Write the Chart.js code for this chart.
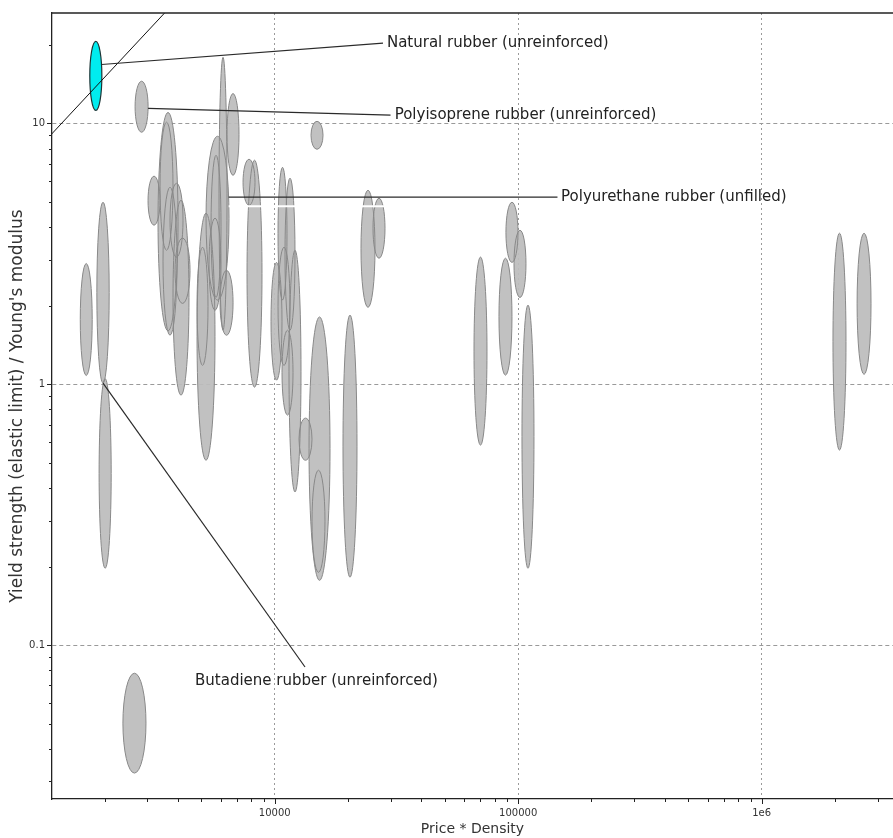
<!DOCTYPE html>
<html>
<head>
<meta charset="utf-8">
<script src="https://cdn.jsdelivr.net/npm/chart.js@4.4.1/dist/chart.umd.min.js"></script>
<style>
  html, body { margin: 0; padding: 0; background: #ffffff; }
  #wrap { width: 893px; height: 838px; position: relative; }
</style>
</head>
<body>
<div id="wrap"><canvas id="chart"></canvas></div>
<script>
// Material property envelopes: price*density range and
// (yield strength / Young's modulus) range for each material.
const priceDensityLow = [
  1740, 2670, 1590, 1860, 1900, 2380, 3317, 3381, 3477, 3018,
  3715, 3896, 3822, 4797, 4797, 5373, 5476, 5223, 5906, 6370,
  5963, 7412, 7697, 9656, 10318, 11023, 10318, 11447, 10715, 12584,
  13833, 14230, 14096, 19076, 22614, 25335, 65847, 83386, 89070, 96110,
  103660, 1963000, 2466000
];
const priceDensityHigh = [
  1950, 3020, 1780, 2090, 2130, 2960, 4008, 3822, 3970, 3381,
  4202, 4490, 4446, 5685, 5322, 6019, 6019, 6492, 6370, 7135,
  6744, 8301, 8867, 10715, 11233, 12117, 11555, 12823, 11891, 14230,
  16872, 16088, 15793, 21777, 25817, 28379, 74456, 94300, 99816, 107650,
  116110, 2220000, 2813000
];
const ratioLow = [
  11.2, 9.24, 1.08, 1.01, 0.197, 0.0323, 1.6, 3.26, 1.54, 4.07,
  3.07, 2.04, 0.908, 0.511, 1.18, 1.92, 2.15, 2.1, 1.61, 6.32,
  1.54, 4.85, 0.974, 1.036, 2.1, 1.61, 1.18, 0.386, 0.761, 0.511,
  0.177, 0.19, 7.95, 0.182, 1.97, 3.04, 0.584, 1.083, 2.93, 2.15,
  0.197, 0.559, 1.09
];
const ratioHigh = [
  20.6, 14.5, 2.9, 4.98, 1.05, 0.078, 11.0, 10.1, 5.69, 6.27,
  5.89, 3.63, 5.07, 4.52, 3.35, 4.33, 7.54, 8.92, 17.9, 13.0,
  2.73, 7.28, 7.22, 2.93, 6.78, 6.16, 3.35, 3.26, 1.61, 0.741,
  1.81, 0.468, 10.18, 1.84, 5.54, 5.16, 3.07, 3.04, 4.98, 3.89,
  2.01, 3.79, 3.79
];
// Highlighted (selected) material
const highlightedIndex = 0;

// Annotated materials
const labelNames = [
  'Natural rubber (unreinforced)',
  'Polyisoprene rubber (unreinforced)',
  'Polyurethane rubber (unfilled)',
  'Butadiene rubber (unreinforced)'
];
const labelMaterial = [0, 1, 17, 3];
const labelAnchorY = [16.8, 11.4, 5.21, 1.01];
const labelLineEndX = [27850, 29900, 145000, 13320];
const labelLineEndY = [20.3, 10.75, 5.21, 0.0824];
const labelTextX = [28900, 31100, 150000, 4708];
const labelTextY = [20.3, 10.75, 5.21, 0.0728];

// Guideline of constant ratio: y = guideFactor * x
const guideFactor = 0.0075;
const guideX = [1000, 10000];

// Axis ranges and labelled ticks
const xRange = [1217, 3463000];
const yRange = [0.0257, 26.47];
const xMajorTicks = [10000, 100000, 1000000];
const xMajorLabels = ['10000', '100000', '1e6'];
const yMajorTicks = [0.1, 1, 10];
const yMajorLabels = ['0.1', '1', '10'];

const FONT = "'DejaVu Sans', Verdana, sans-serif";

function logTicks(lo, hi) {
  const out = [];
  for (let e = Math.floor(Math.log10(lo)); e <= Math.ceil(Math.log10(hi)); e++) {
    for (let m = 1; m <= 9; m++) {
      const v = m * Math.pow(10, e);
      if (v >= lo && v <= hi) out.push(v);
    }
  }
  return out;
}
function isMajor(list, v) {
  return list.some(t => Math.abs(t - v) / t < 1e-9);
}
function majorLabel(list, labels, v) {
  const i = list.findIndex(t => Math.abs(t - v) / t < 1e-9);
  return i >= 0 ? labels[i] : '';
}

// Ellipses drawn through the chart's scales
const envelopePlugin = {
  id: 'envelopes',
  beforeDatasetsDraw(chart) {
    const {ctx, chartArea, scales: {x, y}} = chart;
    ctx.save();
    ctx.beginPath();
    ctx.rect(chartArea.left, chartArea.top, chartArea.right - chartArea.left, chartArea.bottom - chartArea.top);
    ctx.clip();
    const shapes = priceDensityLow.map((lo, i) => {
      const x1 = x.getPixelForValue(lo), x2 = x.getPixelForValue(priceDensityHigh[i]);
      const y1 = y.getPixelForValue(ratioLow[i]), y2 = y.getPixelForValue(ratioHigh[i]);
      return {cx: (x1 + x2) / 2, cy: (y1 + y2) / 2, rx: Math.abs(x2 - x1) / 2, ry: Math.abs(y2 - y1) / 2, i};
    });
    // fills first, outlines after so overlapping envelopes stay readable
    shapes.forEach(s => {
      if (s.i === highlightedIndex) return;
      ctx.beginPath();
      ctx.ellipse(s.cx, s.cy, s.rx, s.ry, 0, 0, Math.PI * 2);
      ctx.fillStyle = 'rgba(188,188,188,0.93)';
      ctx.fill();
    });
    shapes.forEach(s => {
      if (s.i === highlightedIndex) return;
      ctx.beginPath();
      ctx.ellipse(s.cx, s.cy, s.rx, s.ry, 0, 0, Math.PI * 2);
      ctx.strokeStyle = '#888888';
      ctx.lineWidth = 1;
      ctx.stroke();
    });
    const h = shapes[highlightedIndex];
    ctx.beginPath();
    ctx.ellipse(h.cx, h.cy, h.rx, h.ry, 0, 0, Math.PI * 2);
    ctx.fillStyle = '#00ecef';
    ctx.fill();
    ctx.strokeStyle = '#1c3536';
    ctx.lineWidth = 1.2;
    ctx.stroke();
    ctx.restore();
  },
  afterDatasetsDraw(chart) {
    const {ctx, scales: {x, y}} = chart;
    ctx.save();
    // leader lines and labels
    labelNames.forEach((name, k) => {
      const m = labelMaterial[k];
      const x1 = x.getPixelForValue(priceDensityLow[m]), x2 = x.getPixelForValue(priceDensityHigh[m]);
      const y1 = y.getPixelForValue(ratioLow[m]), y2 = y.getPixelForValue(ratioHigh[m]);
      const cx = (x1 + x2) / 2, cy = (y1 + y2) / 2, rx = (x2 - x1) / 2, ry = Math.abs(y2 - y1) / 2;
      const ay = y.getPixelForValue(labelAnchorY[k]);
      const t = Math.max(-1, Math.min(1, (ay - cy) / ry));
      const ax = cx + rx * Math.sqrt(1 - t * t);
      const ex = x.getPixelForValue(labelLineEndX[k]);
      const ey = y.getPixelForValue(labelLineEndY[k]);
      if (k === 2) {
        ctx.beginPath();
        ctx.moveTo(ax, ay + 9);
        ctx.lineTo(ex - 170, ey + 9);
        ctx.strokeStyle = '#ffffff';
        ctx.lineWidth = 2;
        ctx.stroke();
      }
      ctx.beginPath();
      ctx.moveTo(ax, ay);
      ctx.lineTo(ex, ey);
      ctx.strokeStyle = '#2a2a2a';
      ctx.lineWidth = 1.2;
      ctx.stroke();
      ctx.font = '15px ' + FONT;
      ctx.fillStyle = '#222222';
      ctx.textAlign = 'left';
      ctx.textBaseline = 'middle';
      ctx.fillText(name, x.getPixelForValue(labelTextX[k]), y.getPixelForValue(labelTextY[k]));
    });
    ctx.restore();
  },
  afterDraw(chart) {
    const {ctx, chartArea, scales: {x, y}} = chart;
    ctx.save();
    ctx.strokeStyle = '#222222';
    ctx.lineWidth = 1;
    // tick marks
    x.ticks.forEach(t => {
      const px = Math.round(x.getPixelForValue(t.value)) + 0.5;
      const len = isMajor(xMajorTicks, t.value) ? 5 : 3;
      ctx.beginPath();
      ctx.moveTo(px, chartArea.bottom);
      ctx.lineTo(px, chartArea.bottom + len);
      ctx.stroke();
    });
    y.ticks.forEach(t => {
      const py = Math.round(y.getPixelForValue(t.value)) + 0.5;
      const len = isMajor(yMajorTicks, t.value) ? 5 : 3;
      ctx.beginPath();
      ctx.moveTo(chartArea.left, py);
      ctx.lineTo(chartArea.left - len, py);
      ctx.stroke();
    });
    // frame top edge
    ctx.lineWidth = 1.3;
    ctx.beginPath();
    ctx.moveTo(chartArea.left, chartArea.top);
    ctx.lineTo(chartArea.right, chartArea.top);
    ctx.stroke();
    ctx.restore();
  }
};

new Chart(document.getElementById('chart'), {
  type: 'line',
  data: {
    datasets: [{
      label: 'Guideline',
      data: guideX.map(v => ({x: v, y: guideFactor * v})),
      borderColor: '#111111',
      borderWidth: 1,
      pointRadius: 0,
      fill: false,
      tension: 0
    }]
  },
  options: {
    responsive: true,
    maintainAspectRatio: false,
    animation: false,
    events: [],
    layout: {padding: {left: 0, right: 0, top: 13, bottom: 0}},
    plugins: {legend: {display: false}, tooltip: {enabled: false}},
    scales: {
      x: {
        type: 'logarithmic',
        min: xRange[0],
        max: xRange[1],
        afterBuildTicks: s => { s.ticks = logTicks(xRange[0], xRange[1]).map(v => ({value: v})); },
        afterFit: s => { s.height = 39; },
        grid: {
          drawTicks: false,
          color: c => (c.tick && isMajor(xMajorTicks, c.tick.value)) ? '#9a9a9a' : 'rgba(0,0,0,0)',
          lineWidth: 1
        },
        border: {display: true, color: '#222222', width: 1.3, dash: [2, 3]},
        ticks: {
          autoSkip: false,
          maxRotation: 0,
          padding: 8,
          color: '#333333',
          font: {family: FONT, size: 10},
          callback: v => majorLabel(xMajorTicks, xMajorLabels, v)
        },
        title: {
          display: true,
          text: 'Price * Density',
          color: '#333333',
          font: {family: FONT, size: 14},
          padding: {top: 0, bottom: 0}
        }
      },
      y: {
        type: 'logarithmic',
        min: yRange[0],
        max: yRange[1],
        afterBuildTicks: s => { s.ticks = logTicks(yRange[0], yRange[1]).map(v => ({value: v})); },
        afterFit: s => { s.width = 52; },
        grid: {
          drawTicks: false,
          color: c => (c.tick && isMajor(yMajorTicks, c.tick.value)) ? '#9a9a9a' : 'rgba(0,0,0,0)',
          lineWidth: 1
        },
        border: {display: true, color: '#222222', width: 1.3, dash: [4, 3]},
        ticks: {
          autoSkip: false,
          padding: 7,
          color: '#333333',
          font: {family: FONT, size: 10},
          callback: v => majorLabel(yMajorTicks, yMajorLabels, v)
        },
        title: {
          display: true,
          text: "Yield strength (elastic limit) / Young's modulus",
          color: '#333333',
          font: {family: FONT, size: 17},
          padding: {top: 7, bottom: 0}
        }
      }
    }
  },
  plugins: [envelopePlugin]
});
</script>
</body>
</html>
